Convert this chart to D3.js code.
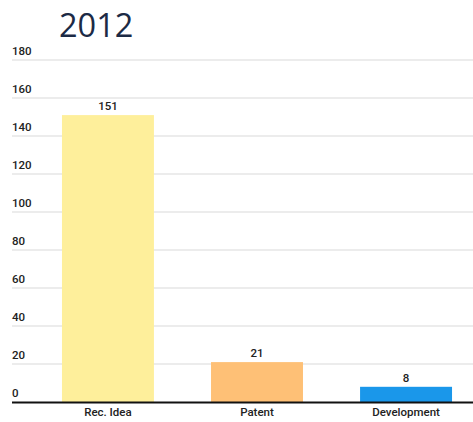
<!DOCTYPE html>
<html><head><meta charset="utf-8">
<script src="https://cdn.jsdelivr.net/npm/d3@7"></script>
<style>body{margin:0;background:#fff}svg{display:block}</style>
</head><body>
<script>
const title = "2012";
const categories = ["Rec. Idea", "Patent", "Development"];
const values = [151, 21, 8];
const colors = ["#FEEF9B", "#FEC076", "#1A97EA"];
const yTicks = [0, 20, 40, 60, 80, 100, 120, 140, 160, 180];

const W = 473, H = 422;
const svg = d3.select("body").append("svg").attr("width", W).attr("height", H);

const y = d3.scaleLinear().domain([0, 180]).range([402, 60]);
const x = d3.scaleBand().domain(categories).range([33.5, 480.5]).paddingInner(0.383).paddingOuter(0.191);

svg.append("text").attr("x", 59).attr("y", 37).text(title)
  .attr("font-family", "Open Sans").attr("font-size", 32.5).attr("fill", "#1c2a45");

const g = svg.append("g");
yTicks.forEach(t => {
  if (t > 0) g.append("line").attr("x1", 12).attr("x2", W).attr("y1", y(t)).attr("y2", y(t))
    .attr("stroke", "#d9d9d9").attr("stroke-width", 1);
  g.append("text").attr("x", 12).attr("y", y(t) - 5).text(t)
    .attr("font-family", "Roboto").attr("font-weight", 500).attr("font-size", 11.5).attr("fill", "#222");
});

svg.selectAll("rect.bar").data(values).join("rect").attr("class", "bar")
  .attr("x", (d, i) => x(categories[i])).attr("width", x.bandwidth())
  .attr("y", d => y(d)).attr("height", d => y(0) - y(d))
  .attr("fill", (d, i) => colors[i]);

svg.selectAll("text.val").data(values).join("text").attr("class", "val")
  .attr("x", (d, i) => x(categories[i]) + x.bandwidth() / 2).attr("y", d => y(d) - 5)
  .attr("text-anchor", "middle").text(d => d)
  .attr("font-family", "Roboto").attr("font-weight", 500).attr("font-size", 11.5).attr("fill", "#222");

svg.append("line").attr("x1", 12).attr("x2", W).attr("y1", y(0)+0.5).attr("y2", y(0)+0.5)
  .attr("stroke", "#111").attr("stroke-width", 2);

svg.selectAll("text.cat").data(categories).join("text").attr("class", "cat")
  .attr("x", d => x(d) + x.bandwidth() / 2).attr("y", 416)
  .attr("text-anchor", "middle").text(d => d)
  .attr("font-family", "Roboto").attr("font-weight", 500).attr("font-size", 11.5).attr("fill", "#222");
</script>
</body></html>
